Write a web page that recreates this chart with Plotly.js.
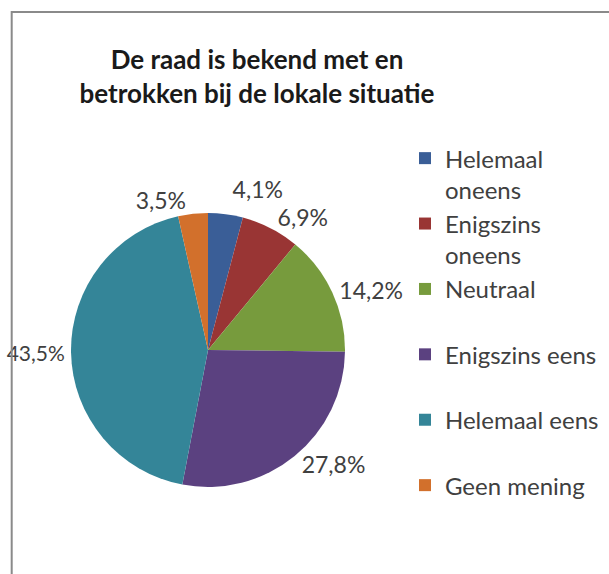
<!DOCTYPE html>
<html>
<head>
<meta charset="utf-8">
<script src="https://cdn.plot.ly/plotly-3.0.1.min.js"></script>
<style>
  html, body { margin: 0; padding: 0; background: #fff; }
  #chart { width: 609px; height: 574px; }
  /* Excel shows no leader lines */
  #chart path.textline { stroke-opacity: 0 !important; }
</style>
</head>
<body>
<div id="chart"></div>
<script>
var categories = ['Helemaal oneens', 'Enigszins oneens', 'Neutraal', 'Enigszins eens', 'Helemaal eens', 'Geen mening'];
var legendNames = ['Helemaal<br>oneens', 'Enigszins<br>oneens', 'Neutraal<br>\u00a0', 'Enigszins eens<br>\u00a0', 'Helemaal eens<br>\u00a0', 'Geen mening<br>\u00a0'];
var percentages = [4.1, 6.9, 14.2, 27.8, 43.5, 3.5];
var sliceColors = ['#3a5e97', '#993534', '#779b3d', '#5b4180', '#348598', '#d2702c'];
var labelSizes = [23, 23, 23, 23, 21, 23];

var chartTitle = 'De raad is bekend met en<br>betrokken bij de lokale situatie';

var trace = {
    type: 'pie',
    labels: legendNames,
    values: percentages,
    sort: false,
    direction: 'clockwise',
    rotation: 0,
    marker: {colors: sliceColors, line: {width: 0}},
    textposition: 'outside',
    texttemplate: '%{percent:.1%}',
    textfont: {family: 'Lato, sans-serif', size: labelSizes, color: '#404040'},
    hoverinfo: 'none',
    domain: {x: [0.1166, 0.5665], y: [0.1516, 0.6289]}
};

var layout = {
    width: 609,
    height: 574,
    separators: ',.',
    margin: {l: 0, r: 0, t: 0, b: 0},
    paper_bgcolor: '#ffffff',
    font: {family: 'Lato, sans-serif', color: '#404040'},
    title: {
        text: '<b>' + chartTitle + '</b>',
        font: {family: 'Lato, sans-serif', size: 26, color: '#1a1a1a'},
        x: 0.422,
        xanchor: 'center',
        y: 0.8798,
        yanchor: 'middle'
    },
    showlegend: true,
    legend: {
        x: 0.665,
        xanchor: 'left',
        y: 0.763,
        yanchor: 'top',
        valign: 'top',
        font: {family: 'Lato, sans-serif', size: 24, color: '#404040'},
        bgcolor: 'rgba(0,0,0,0)'
    },
    shapes: [{
        type: 'rect',
        xref: 'paper', yref: 'paper',
        x0: 0.0192, x1: 1.05,
        y0: -0.05, y1: 0.9790,
        line: {color: '#8a8a8a', width: 2}
    }]
};

Plotly.newPlot('chart', [trace], layout, {displayModeBar: false, staticPlot: true});
</script>
</body>
</html>
